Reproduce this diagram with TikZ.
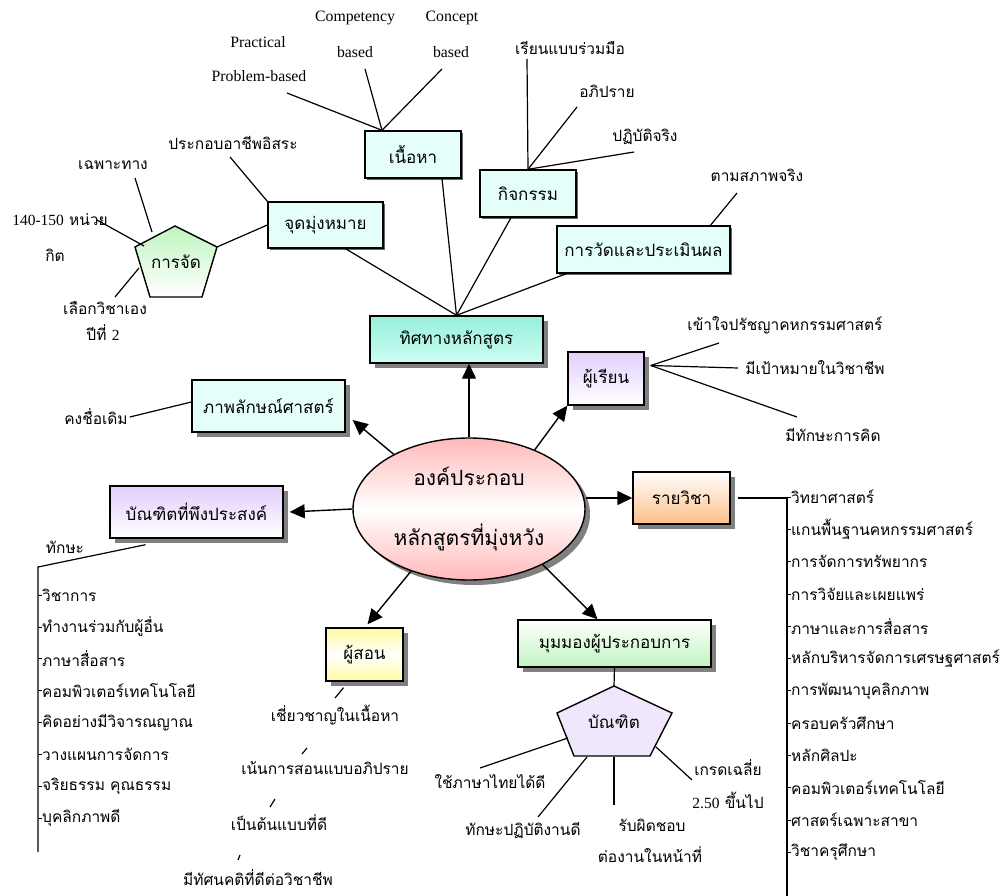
\documentclass[tikz,border=0pt]{standalone}
\usepackage{fontspec}
\setmainfont{Liberation Serif}
\newfontfamily\thaifont[Script=Thai]{Loma}
\usetikzlibrary{arrows.meta, shapes.geometric, shadows}

\definecolor{paleaqua}{RGB}{228,255,250}
\definecolor{aquatop}{RGB}{150,238,218}
\definecolor{aquabot}{RGB}{205,255,243}
\definecolor{lilac}{RGB}{226,206,252}
\definecolor{peach}{RGB}{252,190,135}
\definecolor{mint}{RGB}{192,245,192}
\definecolor{lemon}{RGB}{255,250,160}
\definecolor{rose}{RGB}{255,185,185}
\definecolor{lilacpale}{RGB}{241,231,252}

\tikzset{
    every node/.style={inner sep=0pt},
    en/.style={font=\fontsize{15.8}{18}\selectfont},
    th/.style={font=\thaifont\fontsize{15.5}{18}\selectfont},
    thbig/.style={font=\thaifont\fontsize{17}{20}\selectfont},
    box/.style={draw, line width=1.4pt, thbig,
        drop shadow={shadow xshift=5pt, shadow yshift=-5pt, fill=black!50, opacity=1}},
    flatbox/.style={draw, line width=1.4pt, thbig, fill=paleaqua,
        drop shadow={shadow xshift=2pt, shadow yshift=-2pt, fill=black!60, opacity=1}},
    core/.style={draw, ellipse, line width=1.4pt, align=center,
        font=\thaifont\fontsize{21}{60}\selectfont,
        top color=rose, bottom color=rose, middle color=white,
        drop shadow={shadow xshift=5pt, shadow yshift=-5pt, fill=black!50, opacity=1}},
    pent/.style={draw, line width=1.4pt},
    link/.style={line width=1.2pt},
    arr/.style={line width=1.4pt, -{Triangle[length=15pt, width=14pt]}},
}

\begin{document}
\begin{tikzpicture}[x=1pt, y=-1pt]
    \useasboundingbox (0,0) rectangle (1001,896);

    % centre
    \node[core, minimum width=232pt, minimum height=142pt] (hub) at (469,509)
        {\raisebox{-5pt}{องค์ประกอบ}\\\raisebox{-5pt}{หลักสูตรที่มุ่งหวัง}};

    % main boxes
    \node[box, top color=aquatop, bottom color=aquabot, minimum width=173pt, minimum height=47pt] (dir) at (456.5,339.5) {ทิศทางหลักสูตร};
    \node[box, top color=lilac, bottom color=white, minimum width=76pt, minimum height=53pt] (learner) at (606,378.5) {ผู้เรียน};
    \node[box, fill=paleaqua, minimum width=153pt, minimum height=52pt] (image) at (268.5,406) {ภาพลักษณ์ศาสตร์};
    \node[box, top color=lilac, bottom color=white, minimum width=173pt, minimum height=52pt] (grad) at (196.5,512) {บัณฑิตที่พึงประสงค์};
    \node[box, top color=white, bottom color=peach, minimum width=97pt, minimum height=52pt] (subj) at (681.5,498) {รายวิชา};
    \node[box, top color=white, bottom color=mint, minimum width=193pt, minimum height=47pt] (entre) at (614.5,643.5) {มุมมองผู้ประกอบการ};
    \node[box, top color=lemon, bottom color=lemon, middle color=white, minimum width=77pt, minimum height=53pt] (teacher) at (364.5,654.5) {ผู้สอน};

    % direction branch
    \node[flatbox, minimum width=115pt, minimum height=46pt] (aim) at (325.5,225) {จุดมุ่งหมาย};
    \node[flatbox, minimum width=96pt, minimum height=47pt] (content) at (413,154.5) {เนื้อหา};
    \node[flatbox, minimum width=96pt, minimum height=47pt] (activity) at (528,193.5) {กิจกรรม};
    \node[flatbox, minimum width=173pt, minimum height=47pt] (eval) at (643.5,249.5) {การวัดและประเมินผล};

    \draw[link] ([xshift=20pt]aim.south) -- (dir.north);
    \draw[link] ([xshift=29pt]content.south) -- (dir.north);
    \draw[link] ([xshift=-17pt]activity.south) -- (dir.north);
    \draw[link] ([xshift=10pt]eval.south west) -- (dir.north);

    % content
    \coordinate (ctop) at ([xshift=-31pt]content.north);
    \node[en] (prac) at (258,42) {Practical};
    \node[en] (prob) at (259,76) {Problem-based};
    \node[en] (comp) at (355,18) {Competency};
    \node[en] (compb) at (355,52) {based};
    \node[en] (conc) at (452,18) {Concept};
    \node[en] (concb) at (451,52) {based};
    \coordinate (prob-e) at (287,93);
    \coordinate (comp-e) at (365,69);
    \coordinate (conc-e) at (442,69);
    \draw[link] (ctop) -- (prob-e);
    \draw[link] (ctop) -- (comp-e);
    \draw[link] (ctop) -- (conc-e);

    % activity
    \node[th] (coop) at (570,48) {เรียนแบบร่วมมือ};
    \node[th] (disc) at (607,91) {อภิปราย};
    \node[th] (pract) at (645,137) {ปฏิบัติจริง};
    \coordinate (coop-e) at (527,59);
    \coordinate (disc-e) at (577,107);
    \coordinate (pract-e) at (634,152);
    \draw[link] (activity.north) -- (coop-e);
    \draw[link] (activity.north) -- (disc-e);
    \draw[link] (activity.north) -- (pract-e);

    % evaluation
    \node[th] (real) at (757,175) {ตามสภาพจริง};
    \coordinate (real-e) at (737,193);
    \draw[link] ([xshift=67pt]eval.north) -- (real-e);

    % aim
    \node[th] (free) at (233,143) {ประกอบอาชีพอิสระ};
    \coordinate (free-e) at (230,157);
    \draw[link] (aim.north west) -- (free-e);

    \draw[pent, top color=mint, bottom color=white] (175,226) -- (217,247) -- (202,297) -- (150,297) -- (135,247) -- cycle;
    \node[thbig] (plan) at (176,262) {การจัด};
    \coordinate (plan-r) at (217,247);
    \draw[link] (plan-r) -- (aim.west);

    \node[th] (spec) at (113,165) {เฉพาะทาง};
    \node[th] (cred) at (60,220) {{\fontspec{Liberation Serif}140-150} หน่วย};
    \node[th] (credb) at (55,255) {กิต};
    \node[th] (elec) at (105,308) {เลือกวิชาเอง};
    \node[th] (elecb) at (103,333) {ปีที่ {\fontspec{Liberation Serif}2}};
    \coordinate (plan-a) at (152,232);
    \coordinate (plan-b) at (144,246);
    \coordinate (plan-c) at (139,268);
    \draw[link] (plan-a) -- (135,178);
    \draw[link] (plan-b) -- (97,220);
    \draw[link] (plan-c) -- (115,297);

    % learner
    \coordinate (lrn) at ([xshift=6pt, yshift=13pt]learner.east);
    \node[th] (phil) at (785,325) {เข้าใจปรัชญาคหกรรมศาสตร์};
    \node[th] (goal) at (815,368) {มีเป้าหมายในวิชาชีพ};
    \node[th] (think) at (833,435) {มีทักษะการคิด};
    \draw[link] (lrn) -- (719,343);
    \draw[link] (lrn) -- (738,368);
    \draw[link] (lrn) -- (797,417);

    % image
    \node[th] (name) at (96,417) {คงชื่อเดิม};
    \draw[link] ([xshift=2pt]name.east) -- ([yshift=4pt]image.west);

    % graduates
    \node[th] (skill) at (65,547) {ทักษะ};
    \coordinate (sk-top) at (38,567);
    \coordinate (sk-end) at (38,852);
    \draw[link] ([xshift=-51pt, yshift=-6pt]grad.south) -- (sk-top) -- (sk-end);
    \foreach \t [count=\i] in {วิชาการ, ทำงานร่วมกับผู้อื่น, ภาษาสื่อสาร, คอมพิวเตอร์เทคโนโลยี,
        คิดอย่างมีวิจารณญาณ, วางแผนการจัดการ, จริยธรรม คุณธรรม, บุคลิกภาพดี}
    {
        \node[th, anchor=west] (sk-\i) at (42,{595+31.9*(\i-1)}) {\t};
        \draw[line width=0.8pt] (sk-\i.west) -- ++(-4,0);
    }

    % subjects
    \coordinate (sb-top) at (787,498);
    \coordinate (sb-end) at (787,896);
    \draw[link] ([xshift=7pt]subj.east) -- (sb-top) -- (sb-end);
    \foreach \t [count=\i] in {วิทยาศาสตร์, แกนพื้นฐานคหกรรมศาสตร์, การจัดการทรัพยากร, การวิจัยและเผยแพร่,
        ภาษาและการสื่อสาร, หลักบริหารจัดการเศรษฐศาสตร์, การพัฒนาบุคลิกภาพ, ครอบครัวศึกษา,
        หลักศิลปะ, คอมพิวเตอร์เทคโนโลยี, ศาสตร์เฉพาะสาขา, วิชาครุศึกษา}
    {
        \node[th, anchor=west] (sb-\i) at (791,{497+32.3*(\i-1)}) {\t};
        \draw[line width=0.8pt] (sb-\i.west) -- ++(-4,0);
    }

    % teacher
    \node[th] (t1) at (335,715) {เชี่ยวชาญในเนื้อหา};
    \node[th] (t2) at (325,768) {เน้นการสอนแบบอภิปราย};
    \node[th] (t3) at (279,823) {เป็นต้นแบบที่ดี};
    \node[th] (t4) at (258,878) {มีทัศนคติที่ดีต่อวิชาชีพ};
    \draw[link] ([xshift=-21pt, yshift=-6pt]teacher.south) -- (335,698);
    \draw[link] (307,748) -- (302,754);
    \draw[link] (275,799) -- (270,807);
    \draw[link] (240,855) -- (238,860);

    % entrepreneur
    \draw[pent, fill=lilacpale] (614,686) -- (672,713) -- (650,756) -- (574,756) -- (557,713) -- cycle;
    \node[thbig] (bach) at (614,722) {บัณฑิต};
    \coordinate (bach-top) at (614,686);
    \draw[link] (entre.south) -- (bach-top);
    \node[th] (thai) at (490,782) {ใช้ภาษาไทยได้ดี};
    \node[th] (work) at (523,830) {ทักษะปฏิบัติงานดี};
    \node[th] (resp) at (652,825) {รับผิดชอบ};
    \node[th] (respb) at (650,855) {ต่องานในหน้าที่};
    \node[th] (gpa) at (728,768) {เกรดเฉลี่ย};
    \node[th] (gpab) at (728,800) {{\fontspec{Liberation Serif}2.50} ขึ้นไป};
    \draw[link] (568,738) -- (480,768);
    \draw[link] (587,757) -- (538,817);
    \draw[link] (614,757) -- (614,805);
    \draw[link] (656,747) -- (692,780);

    % arrows from centre
    \draw[arr] (hub.north) -- (hub.north |- dir.south);
    \draw[arr] (hub.42) -- (learner.south west);
    \draw[arr] (hub.144) -- ([xshift=7pt, yshift=-14pt]image.east);
    \draw[arr] (hub.west) -- ([xshift=6pt]grad.east);
    \draw[arr] (subj.west -| hub.east) -- (subj.west);
    \draw[arr] (hub.227) -- ([xshift=3pt, yshift=3pt]teacher.north);
    \draw[arr] (hub.323) -- ([xshift=-17pt]entre.north);
\end{tikzpicture}
\end{document}
